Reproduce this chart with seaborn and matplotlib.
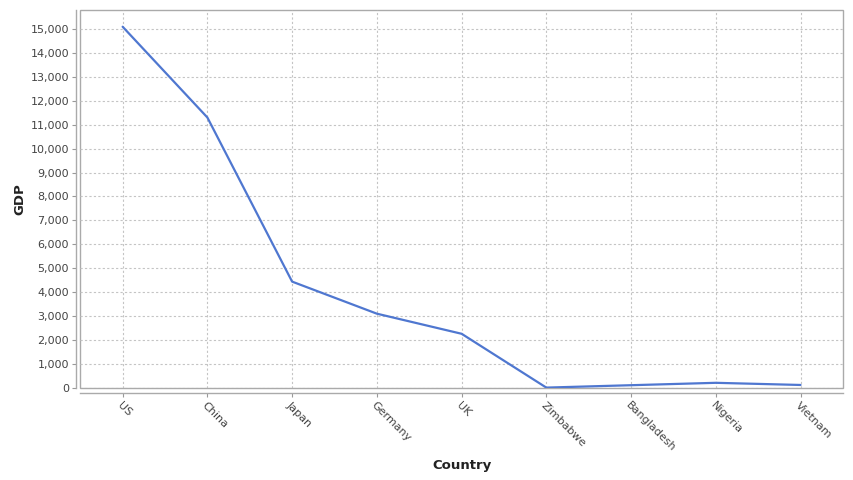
import pandas as pd
import matplotlib.pyplot as plt
import matplotlib.ticker as mticker
import seaborn as sns

# Data
countries = ['US', 'China', 'Japan', 'Germany', 'UK', 'Zimbabwe', 'Bangladesh', 'Nigeria', 'Vietnam']
gdp = [15094, 11300, 4440, 3100, 2260, 10, 110, 210, 120]

df = pd.DataFrame({'Country': countries, 'GDP': gdp})

sns.set_style("white")
plt.rcParams['font.family'] = ['DejaVu Sans']

fig = plt.figure(figsize=(8.54, 4.8), dpi=100)
ax = fig.add_axes([0.094, 0.192, 0.893, 0.787])

sns.lineplot(data=df, x='Country', y='GDP', sort=False, color='#4f77d0', linewidth=1.6, ax=ax)

ax.set_xlim(-0.5, len(countries) - 0.5)
ax.set_ylim(0, 15790)
ax.yaxis.set_major_locator(mticker.MultipleLocator(1000))
ax.yaxis.set_major_formatter(mticker.FuncFormatter(lambda v, p: f'{int(v):,}'))

# Grid
ax.grid(True, color='#c4c4c4', linestyle=(0, (2, 2)), linewidth=0.8)
ax.set_axisbelow(True)

# Plot area border plus offset axes
ax.patch.set_edgecolor('#aaaaaa')
ax.patch.set_linewidth(1.0)
ax.spines['top'].set_visible(False)
ax.spines['right'].set_visible(False)
ax.spines['left'].set_position(('outward', 3))
ax.spines['bottom'].set_position(('outward', 4))
for s in ['left', 'bottom']:
    ax.spines[s].set_color('#aaaaaa')
    ax.spines[s].set_linewidth(1.0)

ax.tick_params(axis='both', which='major', length=3, width=0.8, color='#999999',
               labelsize=8, labelcolor='#444444', direction='out', left=True, bottom=True, pad=2)
plt.setp(ax.get_xticklabels(), rotation=-45, ha='left', va='top', rotation_mode='anchor')

ax.set_xlabel('Country', fontsize=9.5, color='#222222', fontweight='bold')
ax.set_ylabel('GDP', fontsize=9.5, color='#222222', fontweight='bold')
ax.xaxis.set_label_coords(0.5, -0.206)
ax.yaxis.set_label_coords(-0.079, 0.5)
ax.xaxis.label.set_va('center')
ax.yaxis.label.set_va('center')

plt.savefig('out.png', dpi=100)
plt.close()
